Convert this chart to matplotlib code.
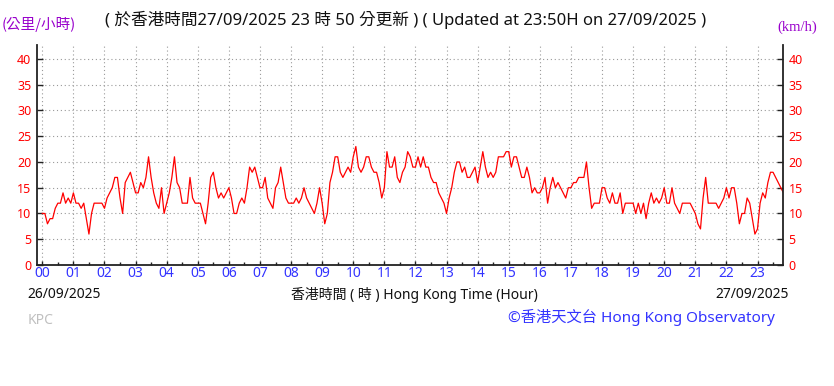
import numpy as np
import matplotlib.pyplot as plt

# 10-minute wind speed, 5-minute readings, 26/09/2025 00:00 - 23:50 (km/h)
speed = [
    10, 10, 8, 9, 9, 11, 12, 12, 14, 12, 13, 12,      # 00
    14, 12, 12, 11, 12, 9, 6, 10, 12, 12, 12, 12,     # 01
    11, 13, 14, 15, 17, 17, 13, 10, 16, 17, 18, 16,   # 02
    14, 14, 16, 15, 17, 21, 17, 14, 12, 11, 15, 10,   # 03
    12, 14, 17, 21, 16, 15, 12, 12, 12, 17, 13, 12,   # 04
    12, 12, 10, 8, 12, 17, 18, 15, 13, 14, 13, 14,    # 05
    15, 13, 10, 10, 12, 13, 12, 15, 19, 18, 19, 17,   # 06
    15, 15, 17, 13, 12, 11, 15, 16, 19, 16, 13, 12,   # 07
    12, 12, 13, 12, 13, 15, 13, 12, 11, 10, 12, 15,   # 08
    12, 8, 10, 16, 18, 21, 21, 18, 17, 18, 19, 18,    # 09
    21, 23, 19, 18, 19, 21, 21, 19, 18, 18, 16, 13,   # 10
    15, 22, 19, 19, 21, 17, 16, 18, 19, 22, 21, 19,   # 11
    19, 21, 19, 21, 19, 19, 17, 16, 16, 14, 13, 12,   # 12
    10, 13, 15, 18, 20, 20, 18, 19, 17, 17, 18, 19,   # 13
    16, 19, 22, 19, 17, 18, 17, 18, 21, 21, 21, 22,   # 14
    22, 19, 21, 21, 19, 17, 17, 19, 17, 14, 15, 14,   # 15
    14, 15, 17, 12, 15, 17, 15, 16, 15, 14, 13, 15,   # 16
    15, 16, 16, 17, 17, 17, 20, 15, 11, 12, 12, 12,   # 17
    15, 15, 13, 12, 14, 12, 12, 14, 10, 12, 12, 12,   # 18
    12, 10, 12, 10, 12, 9, 12, 14, 12, 13, 12, 13,    # 19
    15, 12, 12, 15, 12, 11, 10, 12, 12, 12, 12, 11,   # 20
    10, 8, 7, 13, 17, 12, 12, 12, 12, 11, 12, 13,     # 21
    15, 13, 15, 15, 12, 8, 10, 10, 13, 12, 9, 6,      # 22
    7, 12, 14, 13, 16, 18, 18, 17, 16, 15, 14,        # 23
]
hours = np.arange(len(speed)) * 5 / 60.0

hour_labels = ["%02d" % h for h in range(24)]
y_ticks = [0, 5, 10, 15, 20, 25, 30, 35, 40]

W, H = 834, 386
fig = plt.figure(figsize=(W / 100, H / 100), dpi=100)
ax = fig.add_axes([37 / W, 1 - 265 / H, (783 - 37) / W, (265 - 45) / H])

ax.plot(hours, speed, color="#ff0000", linewidth=0.9)

ax.set_xlim(-0.17, 23.82)
ax.set_ylim(0, 42.7)

ax.set_xticks(range(24))
ax.set_xticklabels(hour_labels)
ax.set_xticks(np.arange(0.5, 24, 1), minor=True)
ax.set_yticks(y_ticks)

ax.grid(True, which="major", color="#9a9a9a", linestyle=(0, (1, 2.5)), linewidth=0.8)

for side in ["left", "right", "bottom"]:
    ax.spines[side].set_linewidth(1.3)
    ax.spines[side].set_color("#222222")
ax.spines["top"].set_visible(False)

ax.tick_params(axis="x", which="both", direction="in", length=3, width=1,
               colors="#222222", labelcolor="#3333ff", labelsize=10, pad=1)
ax.tick_params(axis="x", which="minor", length=2)
ax.tick_params(axis="y", direction="in", length=4, width=1, colors="#222222",
               labelcolor="#ff0000", labelsize=9, left=True, right=True,
               labelleft=True, labelright=True, pad=4)
for lbl in ax.get_xticklabels() + ax.get_yticklabels():
    lbl.set_family(["Noto Sans", "DejaVu Sans"])

fam = ["Noto Sans", "Noto Sans CJK TC", "DejaVu Sans"]

fig.text(2 / W, 1 - 25 / H, "(公里/小時)", color="#9900cc", fontsize=10.5,
         family=["Noto Sans CJK TC", "DejaVu Sans"], ha="left", va="center")
fig.text(406 / W, 1 - 20 / H,
         "( 於香港時間27/09/2025 23 時 50 分更新 ) ( Updated at 23:50H on 27/09/2025 )",
         color="#111111", fontsize=12, family=fam, ha="center", va="center")
fig.text(797 / W, 1 - 27 / H, "(km/h)", color="#9900cc", fontsize=10.5,
         family=["Liberation Serif", "DejaVu Serif"], ha="center", va="center")

fig.text(27 / W, 1 - 295 / H, "26/09/2025", color="#111111", fontsize=10,
         family=fam, ha="left", va="center")
fig.text(414 / W, 1 - 295 / H, "香港時間 ( 時 ) Hong Kong Time (Hour)",
         color="#111111", fontsize=10, family=fam, ha="center", va="center")
fig.text(789 / W, 1 - 295 / H, "27/09/2025", color="#111111", fontsize=10,
         family=fam, ha="right", va="center")
fig.text(28 / W, 1 - 320 / H, "KPC", color="#c0c0c0", fontsize=10,
         family=fam, ha="left", va="center")
fig.text(775 / W, 1 - 317 / H, "©香港天文台 Hong Kong Observatory",
         color="#3333ff", fontsize=11, family=fam, ha="right", va="center")

fig.savefig("out.png", dpi=100)
